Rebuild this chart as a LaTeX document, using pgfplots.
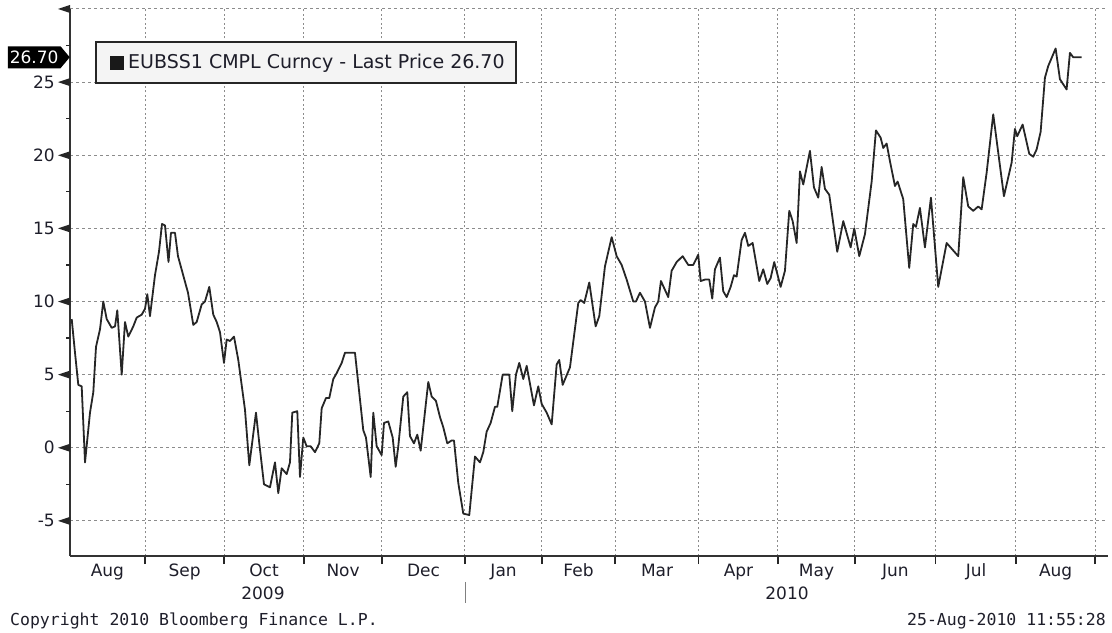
\documentclass[border=0pt]{standalone}
\usepackage{fontspec}
\setmainfont{DejaVu Sans}
\newfontfamily\monofont{DejaVu Sans Mono}
\usepackage{pgfplots}
\usepackage{pgfplotstable}
\pgfplotsset{compat=1.18}
\usetikzlibrary{shapes.symbols}

\definecolor{gridc}{HTML}{8C8C8C}
\definecolor{linec}{HTML}{262626}
\definecolor{legfill}{HTML}{F4F4F4}
\definecolor{txtc}{HTML}{1E1E2A}

% x = days since 1 Aug 2009, y = last price
\pgfplotstableread{
day val
1.43 8.8
2.70 6.5
3.97 4.3
5.28 4.2
6.56 -1.0
8.48 2.4
9.76 3.8
10.80 6.9
12.34 8.1
13.61 10.0
14.92 8.8
16.85 8.2
18.13 8.3
19.01 9.4
20.71 5.0
21.98 8.6
23.25 7.6
25.18 8.3
26.49 8.9
28.42 9.1
29.70 9.5
30.58 10.5
31.62 9.0
33.55 11.8
35.09 13.4
36.25 15.3
37.41 15.2
38.76 12.7
39.72 14.7
41.26 14.7
42.42 13.1
46.28 10.6
48.32 8.4
49.63 8.6
51.56 9.8
52.83 10.0
54.49 11.0
56.03 9.1
57.35 8.6
58.62 7.9
60.16 5.8
61.20 7.4
62.48 7.3
64.02 7.6
65.68 6.0
68.26 2.6
69.92 -1.2
72.50 2.4
73.78 0.3
75.59 -2.5
77.90 -2.7
79.83 -1.0
81.10 -3.1
82.41 -1.4
84.34 -1.8
85.61 -1.0
86.50 2.4
88.43 2.5
89.47 -2.0
90.74 0.7
92.05 0.1
93.60 0.1
95.26 -0.3
96.91 0.3
97.84 2.7
99.50 3.4
100.77 3.4
102.31 4.7
103.62 5.1
105.55 5.8
106.83 6.5
110.68 6.5
113.88 1.2
114.92 0.7
116.74 -2.0
117.74 2.4
119.05 0.1
120.98 -0.5
121.87 1.7
123.52 1.8
125.22 0.7
126.38 -1.3
127.38 0.1
129.31 3.5
130.85 3.8
131.89 0.8
133.43 0.3
134.71 0.9
136.02 -0.2
138.95 4.5
140.26 3.5
141.92 3.2
143.46 2.1
144.74 1.4
146.28 0.3
147.97 0.5
148.86 0.5
150.52 -2.4
152.45 -4.5
154.76 -4.6
156.96 -0.6
158.89 -1.0
160.16 -0.3
161.47 1.1
163.01 1.7
164.67 2.8
165.56 2.8
167.64 5.0
170.19 5.0
171.34 2.5
172.77 5.0
174.04 5.8
175.59 4.7
176.90 5.6
179.71 2.9
181.37 4.2
182.68 3.0
184.61 2.4
186.54 1.6
188.47 5.7
189.47 6.0
190.78 4.3
193.60 5.5
196.80 9.9
197.72 10.1
199.11 9.9
201.04 11.3
203.50 8.3
204.90 9.0
207.09 12.4
209.68 14.4
211.60 13.1
213.53 12.5
215.46 11.5
218.00 10.0
219.05 10.0
220.59 10.6
222.52 10.0
224.45 8.2
226.38 9.6
227.65 10.0
228.69 11.4
231.50 10.3
232.81 12.1
234.74 12.7
237.06 13.1
239.22 12.5
241.15 12.5
243.07 13.2
244.00 11.4
245.66 11.5
247.32 11.5
248.47 10.2
249.51 12.2
251.44 13.0
252.71 10.7
254.03 10.3
255.57 11.0
256.84 11.8
257.88 11.7
259.81 14.2
261.09 14.7
262.36 13.8
264.05 14.0
266.60 11.4
268.14 12.2
269.68 11.2
270.99 11.6
272.38 12.7
274.85 11.0
276.51 12.1
278.17 16.2
279.48 15.5
281.02 14.0
282.30 18.9
283.57 18.0
286.15 20.3
287.70 17.8
289.35 17.1
290.66 19.2
291.94 17.7
293.60 17.3
296.68 13.4
299.00 15.5
301.85 13.7
303.24 15.0
305.17 13.1
307.36 14.6
309.95 18.2
311.61 21.7
313.42 21.2
314.42 20.5
315.73 20.8
317.00 19.6
318.93 17.9
319.97 18.2
322.13 17.0
324.44 12.3
325.99 15.3
327.03 15.1
328.57 16.4
330.50 13.7
332.82 17.1
335.63 11.0
338.87 14.0
343.35 13.1
345.27 18.5
347.20 16.5
349.13 16.2
351.06 16.5
352.37 16.3
354.29 18.8
356.84 22.8
360.97 17.2
363.94 19.5
365.21 21.8
366.10 21.3
368.18 22.1
370.73 20.1
372.27 19.9
373.58 20.4
375.12 21.6
376.78 25.3
378.05 26.1
380.91 27.3
382.56 25.2
385.14 24.5
386.42 27.0
387.70 26.7
390.93 26.7
}\eubss

\begin{document}
\begin{tikzpicture}
\useasboundingbox (0,0) rectangle (1112bp,633bp);
\begin{axis}[
  at={(70bp,77bp)}, anchor=south west,
  scale only axis, width=1038bp, height=547bp,
  xmin=0.77, xmax=401.1, ymin=-7.4, ymax=30,
  axis lines=left,
  axis line style={-, line width=1.6bp, color=black!80},
  every outer x axis line/.append style={-},
  every outer y axis line/.append style={-},
  clip=false,
  xtick={15.2,45.0,75.6,106.1,137.1,168.0,196.9,227.2,258.6,288.7,319.1,350.2,380.9},
  xticklabels={Aug,Sep,Oct,Nov,Dec,Jan,Feb,Mar,Apr,May,Jun,Jul,Aug},
  minor xtick={29.7,60.2,91.0,121.1,153.1,182.8,211.0,243.3,273.8,303.5,334.7,365.6,396.1},
  ytick={-5,0,5,10,15,20,25,30},
  yticklabels={-5,0,5,10,15,20,25,{}},
  xminorgrids=true, xmajorgrids=false, ymajorgrids=true,
  major tick length=0pt, minor tick length=8bp,
  tick align=outside,
  tick style={black!85, line width=1.2bp},
  major grid style={gridc, line width=1bp, dash pattern=on 3bp off 3bp},
  minor grid style={gridc, line width=1bp, dash pattern=on 2bp off 2.5bp},
  ticklabel style={font=\fontsize{17bp}{20bp}\selectfont, text=txtc},
  xticklabel style={anchor=base, inner sep=0pt, yshift=-21bp},
  yticklabel style={anchor=east, inner sep=0pt, xshift=-15bp},
]
\addplot[linec, line width=1.8bp, line join=round] table[x=day, y=val]{\eubss};

% arrow-shaped major y ticks and short minor y ticks
\pgfplotsinvokeforeach{-5,0,5,10,15,20,25,30}{
  \fill[black!85] (axis cs:0.77,#1) ++(0bp,4bp) -- ++(-12bp,-4bp) -- ++(12bp,-4bp) -- cycle;
}
\pgfplotsinvokeforeach{-2.5,2.5,7.5,12.5,17.5,22.5,27.5}{
  \draw[black!85, line width=1.2bp] (axis cs:0.77,#1) -- ++(-4bp,0bp);
}
% last price tag
\node[signal, signal to=east, signal pointer angle=100, fill=black, text=white,
      font=\fontsize{17bp}{20bp}\selectfont, inner xsep=2bp, inner ysep=2bp,
      minimum height=22bp, anchor=east] at (axis cs:0.77,26.7) {26.70};
\end{axis}

% legend box
\draw[fill=legfill, line width=1.5bp, draw=black!85] (96bp,550bp) rectangle (516bp,591bp);
\fill[black!90] (110bp,563bp) rectangle (124bp,577bp);
\node[anchor=west, inner sep=0pt, font=\fontsize{19bp}{22bp}\selectfont, text=txtc]
  at (128bp,570bp) {EUBSS1 CMPL Curncy - Last Price 26.70};

% year labels and separator
\node[anchor=base, inner sep=0pt, font=\fontsize{17bp}{20bp}\selectfont, text=txtc] at (263bp,34bp) {2009};
\node[anchor=base, inner sep=0pt, font=\fontsize{17bp}{20bp}\selectfont, text=txtc] at (787bp,34bp) {2010};
\draw[gray, line width=1bp] (465bp,51bp) -- (465bp,30bp);

% footer
\node[anchor=base west, inner sep=0pt, font=\monofont\fontsize{16.5bp}{19bp}\selectfont, text=txtc] at (10bp,8bp) {Copyright 2010 Bloomberg Finance L.P.};
\node[anchor=base east, inner sep=0pt, font=\monofont\fontsize{16.5bp}{19bp}\selectfont, text=txtc] at (1106bp,8bp) {25-Aug-2010 11:55:28};
\end{tikzpicture}
\end{document}
